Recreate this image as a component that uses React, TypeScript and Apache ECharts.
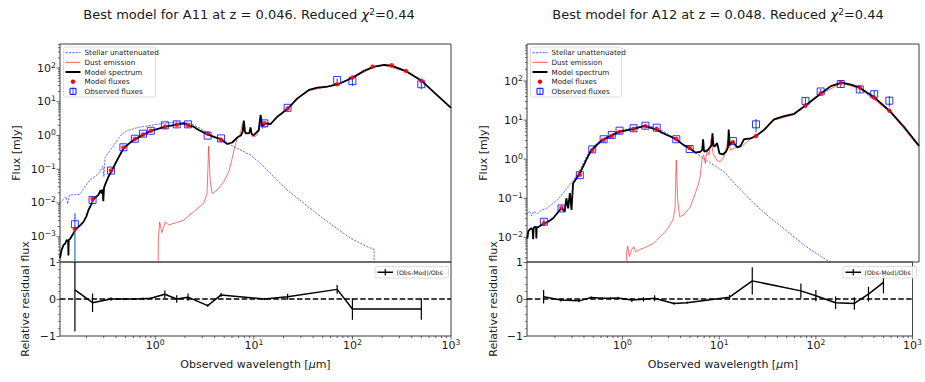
import React, { useEffect, useRef } from "react";
import * as echarts from "echarts";

const FONT = "'DejaVu Sans', Verdana, sans-serif";
const TXT = "#1a1a1a";
const FRAME = "#3c3c3c";

// Photometric bands (observed wavelength, micron)
const bandWavelengths = [0.153, 0.231, 0.355, 0.475, 0.62, 0.75, 0.9, 1.25, 1.65, 2.15, 3.4, 4.65, 12.8, 22, 70, 100, 160, 250, 350, 500];

// ---------- A11 ----------
const a11ModelFluxes = [1.7e-3, 0.0132, 0.091, 0.44, 0.79, 1.07, 1.38, 1.78, 2.09, 2.0, 1.15, 0.74, 2.29, 6.3, 33, 52, 110, 120, 82, 42];
const a11ObsFluxes = [2.34e-3, 0.0123, 0.091, 0.447, 0.8, 1.13, 1.38, 2.0, 2.14, 2.14, 0.99, 0.82, 2.29, 6.6, 44, 41, null, null, null, 33];
const a11ObsErrors = [2.6e-3, 3.1e-3, 4.5e-3, 0.013, 0.024, 0.034, 0.041, 0.2, 0.21, 0.21, 0.03, 0.041, 0.069, 0.53, 5.3, 11.9, null, null, null, 9.6];
const a11Residuals = [0.245, -0.1, 0.0, 0.0, 0.0, 0.01, 0.02, 0.13, 0.0, 0.05, -0.18, 0.11, 0.0, 0.06, 0.26, -0.27, null, null, null, -0.27];
const a11ResidualErrors = [1.12, 0.25, 0.05, 0.03, 0.03, 0.03, 0.03, 0.1, 0.1, 0.1, 0.03, 0.05, 0.03, 0.08, 0.12, 0.29, null, null, null, 0.29];

const a11Spectrum: [number, number][] = [
  [0.108, 2.3e-4], [0.112, 4.0e-4], [0.117, 5.6e-4], [0.122, 6.3e-4], [0.126, 7.9e-4], [0.1306, 7.6e-4],
  [0.1315, 2.8e-4], [0.1324, 7.9e-4], [0.137, 8.7e-4], [0.157, 1.7e-3], [0.174, 2.2e-3], [0.187, 2.75e-3],
  [0.2, 4.0e-3], [0.21, 6.2e-3], [0.224, 8.9e-3], [0.236, 0.0129], [0.251, 0.0151], [0.265, 0.0174],
  [0.279, 0.024], [0.285, 0.019], [0.292, 0.025], [0.297, 0.0112], [0.302, 0.028], [0.31, 0.035],
  [0.335, 0.06], [0.362, 0.091], [0.407, 0.178], [0.476, 0.417], [0.557, 0.617], [0.635, 0.794],
  [0.76, 1.07], [0.91, 1.38], [1.265, 1.82], [1.66, 2.09], [1.94, 2.29], [2.18, 2.0], [2.45, 1.82],
  [2.76, 1.45], [3.35, 1.1], [3.92, 0.91], [4.66, 0.776], [5.36, 0.56], [6.03, 0.62], [6.78, 0.87],
  [7.43, 1.02], [7.7, 1.3], [7.91, 2.75], [8.1, 1.3], [8.3, 1.15], [9.0, 1.2], [9.25, 1.74], [9.5, 1.1],
  [10.0, 1.02], [11.2, 1.45], [11.7, 4.07], [12.2, 1.91], [13.2, 2.29], [14.8, 2.19], [17.3, 3.63],
  [22.2, 6.31], [27.6, 12.6], [36.2, 22.4], [44.1, 26.3], [55.7, 28.2], [71.4, 33.1], [100, 51.3],
  [131.5, 83.2], [166, 110], [210, 123], [249, 117], [348, 81.3], [504, 41.7], [678, 18.6], [1000, 6.6],
];
const a11Stellar: [number, number][] = [
  [0.108, 9.8e-3], [0.117, 0.0129], [0.1245, 0.0155], [0.1295, 9.3e-3], [0.1346, 0.017], [0.172, 0.018],
  [0.187, 0.0263], [0.202, 0.0363], [0.218, 0.0479], [0.236, 0.0575], [0.255, 0.0676], [0.276, 0.0851],
  [0.294, 0.123], [0.301, 0.06], [0.31, 0.224], [0.335, 0.309], [0.377, 0.49], [0.424, 0.82], [0.458, 1.1],
  [0.515, 1.38], [0.652, 1.7], [0.889, 2.0], [1.216, 2.29], [1.66, 2.51], [2.27, 2.29], [2.87, 1.62],
  [3.62, 1.07], [4.95, 0.66], [6.78, 0.417], [9.25, 0.263], [11.7, 0.148], [16.0, 0.06], [21.8, 0.024],
  [32.2, 9.8e-3], [44.1, 4.7e-3], [65.2, 2.0e-3], [96.2, 8.9e-4], [142, 5.0e-4], [166, 4.2e-4], [166.1, 1e-6],
];
const a11Dust: [number, number][] = [
  [1.056, 1e-6], [1.074, 7.9e-4], [1.107, 2.75e-3], [1.169, 1.32e-3], [1.265, 2.75e-3], [1.368, 2.24e-3],
  [1.66, 2.63e-3], [1.94, 3.09e-3], [2.45, 5.5e-3], [3.1, 9.8e-3], [3.35, 0.019], [3.48, 0.49], [3.6, 0.048],
  [3.77, 0.019], [4.24, 0.024], [4.95, 0.0427], [5.57, 0.085], [6.03, 0.209], [6.35, 0.417], [6.78, 0.83],
  [7.21, 1.02], [7.67, 2.29], [7.98, 2.57], [8.3, 1.15], [8.97, 1.1], [9.31, 1.62], [9.68, 0.91],
  [10.5, 0.955], [11.3, 1.38], [11.8, 3.47], [12.2, 1.62], [13.7, 1.91], [17.3, 3.39], [22.2, 6.0],
  [27.6, 12.0], [36.2, 21.5], [55.7, 27.5], [71.4, 32.4], [100, 50.1], [166, 107], [210, 120], [348, 79],
  [504, 40.7], [1000, 6.4],
];

// ---------- A12 ----------
const a12ModelFluxes = [0.0229, 0.0575, 0.398, 1.66, 3.09, 3.89, 5.0, 5.9, 7.0, 5.9, 3.3, 1.94, 2.7, 3.9, 23.4, 48, 91, 69, 38, 17.4];
const a12ObsFluxes = [0.0251, 0.055, 0.39, 1.78, 3.24, 4.17, 5.37, 6.17, 7.2, 6.4, 3.24, 1.82, 2.9, 7.8, 31, 54, 84, 61, 46, 31.4];
const a12ObsErrors = [4.5e-3, 2.2e-3, 0.016, 0.053, 0.097, 0.125, 0.16, 0.31, 0.43, 0.51, 0.097, 0.055, 0.17, 2.9, 6.2, 8.1, 14.3, 10.4, 9.2, 9.4];
const a12Residuals = [0.06, -0.03, -0.05, 0.04, 0.02, 0.02, 0.03, -0.03, -0.01, 0.02, -0.12, -0.1, 0.05, 0.49, 0.22, 0.09, -0.1, -0.12, 0.13, 0.45];
const a12ResidualErrors = [0.18, 0.04, 0.04, 0.03, 0.03, 0.03, 0.03, 0.05, 0.06, 0.08, 0.03, 0.03, 0.06, 0.37, 0.2, 0.15, 0.17, 0.17, 0.2, 0.3];

const a12Spectrum: [number, number][] = [
  [0.1038, 9.3e-3], [0.1059, 0.0141], [0.1096, 0.0158], [0.114, 0.017], [0.1175, 0.0158], [0.1189, 8.9e-3],
  [0.1205, 0.0174], [0.1233, 0.0186], [0.1274, 0.0182], [0.1282, 9.3e-3], [0.1294, 0.0182], [0.1334, 0.0182],
  [0.15, 0.0219], [0.1687, 0.0251], [0.19, 0.0309], [0.222, 0.05], [0.234, 0.055], [0.249, 0.0457],
  [0.259, 0.1], [0.27, 0.055], [0.281, 0.135], [0.292, 0.05], [0.303, 0.24], [0.356, 0.44], [0.416, 1.0],
  [0.46, 1.62], [0.526, 2.29], [0.601, 3.09], [0.731, 3.89], [0.883, 5.01], [1.227, 5.89], [1.614, 7.08],
  [1.845, 6.46], [2.12, 5.75], [2.43, 4.79], [2.73, 4.17], [3.34, 3.31], [4.04, 2.29], [4.65, 1.91],
  [5.31, 1.48], [5.97, 1.55], [6.24, 1.74], [6.37, 3.24], [6.49, 1.74], [6.56, 1.55], [7.1, 1.7],
  [7.76, 2.24], [7.93, 4.57], [8.11, 2.24], [8.3, 2.09], [8.85, 2.57], [9.33, 1.41], [10.1, 1.32],
  [10.9, 1.55], [11.4, 2.0], [11.6, 5.75], [11.9, 2.24], [12.1, 2.57], [12.7, 2.82], [14.2, 2.0],
  [15.3, 2.19], [16.6, 3.24], [19.4, 3.39], [22.1, 3.98], [26.5, 5.62], [33.5, 10.5], [42.5, 12.6],
  [53.7, 14.5], [70.6, 24.0], [100.5, 47.9], [127, 74.1], [163, 91.2], [203, 81.3], [249, 67.6],
  [344, 39.8], [501, 17.4], [713, 6.46], [1000, 2.19],
];
const a12Stellar: [number, number][] = [
  [0.103, 0.0398], [0.1096, 0.0457], [0.1148, 0.0355], [0.1205, 0.0457], [0.127, 0.043], [0.1334, 0.0407],
  [0.1442, 0.05], [0.1622, 0.055], [0.19, 0.0741], [0.213, 0.0933], [0.24, 0.135], [0.27, 0.2],
  [0.303, 0.282], [0.342, 0.447], [0.4, 0.955], [0.45, 1.7], [0.526, 2.57], [0.665, 3.8], [0.91, 5.37],
  [1.245, 6.46], [1.706, 7.24], [2.16, 6.46], [2.73, 4.57], [3.45, 3.09], [4.72, 1.78], [6.46, 1.05],
  [10.35, 0.479], [14.2, 0.2], [20.9, 0.0741], [31.0, 0.0309], [45.9, 0.0141], [67.9, 6.3e-3],
  [100.5, 3.24e-3], [132, 2.14e-3], [166, 1.41e-3], [166.1, 1e-6],
];
const a12Dust: [number, number][] = [
  [1.047, 1e-6], [1.064, 4.27e-3], [1.089, 6.03e-3], [1.132, 3.24e-3], [1.197, 4.9e-3], [1.256, 5.75e-3],
  [1.306, 4.27e-3], [1.455, 4.9e-3], [1.706, 5.75e-3], [1.995, 7.08e-3], [2.33, 0.0105], [2.73, 0.0155],
  [3.14, 0.0275], [3.3, 0.055], [3.4, 0.955], [3.51, 0.0912], [3.67, 0.0339], [4.04, 0.0372], [4.72, 0.06],
  [5.31, 0.135], [5.74, 0.24], [5.97, 0.389], [6.21, 0.955], [6.46, 1.29], [6.71, 0.776], [6.98, 1.7],
  [7.33, 1.29], [7.67, 3.24], [8.05, 1.41], [8.85, 0.912], [9.57, 0.871], [10.35, 1.12], [11.0, 2.09],
  [11.5, 3.24], [12.1, 1.7], [13.6, 2.0], [15.3, 2.0], [19.4, 3.31], [26.5, 5.37], [33.5, 10.0],
  [53.7, 13.8], [100.5, 46.8], [163, 87.1], [249, 64.6], [501, 16.6], [1000, 2.09],
];

// axis ranges
const a11XRange = [0.108, 1000];
const a11YRange = [1.78e-4, 515];
const a12XRange = [0.103, 1000];
const a12YRange = [2.34e-3, 886];
const residualRange = [-1, 1];

// ---------- helpers ----------
const TOP = 44;
const TOP_H = 218;
const RES_H = 74;

function decadeTicks(min: number, max: number) {
  const out: number[] = [];
  for (let e = Math.ceil(Math.log10(min) - 1e-9); e <= Math.floor(Math.log10(max) + 1e-9); e++) out.push(Math.pow(10, e));
  return out;
}
function minorLogTicks(min: number, max: number) {
  const out: number[] = [];
  for (let e = Math.floor(Math.log10(min)); e <= Math.ceil(Math.log10(max)); e++) {
    for (let m = 2; m <= 9; m++) {
      const v = m * Math.pow(10, e);
      if (v >= min && v <= max) out.push(v);
    }
  }
  return out;
}
function logLabel(v: number) {
  const l = Math.log10(v);
  const e = Math.round(l);
  if (Math.abs(l - e) > 1e-6) return "";
  return `{b|10}{s|${e < 0 ? "\u2212" + -e : e}}`;
}
const sciRich = {
  b: { fontSize: 11, fontFamily: FONT, color: TXT, lineHeight: 14 },
  s: { fontSize: 7.7, fontFamily: FONT, color: TXT, lineHeight: 4, verticalAlign: "top" },
};

function tickSeries(axis: number, values: number[], dir: "x" | "y", len: number, anchor: number) {
  return {
    type: "custom",
    xAxisIndex: axis,
    yAxisIndex: axis,
    silent: true,
    z: 6,
    data: values.map((v) => (dir === "x" ? [v, anchor] : [anchor, v])),
    renderItem: (params: any, api: any) => {
      const cs = params.coordSys;
      const p = api.coord([api.value(0), api.value(1)]);
      if (dir === "x") {
        const y0 = cs.y + cs.height;
        return { type: "line", shape: { x1: p[0], y1: y0, x2: p[0], y2: y0 + len }, style: { stroke: FRAME, lineWidth: 0.8 } };
      }
      return { type: "line", shape: { x1: cs.x, y1: p[1], x2: cs.x - len, y2: p[1] }, style: { stroke: FRAME, lineWidth: 0.8 } };
    },
  };
}

function errorBars(axis: number, data: number[][], color: string, width: number, logY: boolean) {
  return {
    type: "custom",
    xAxisIndex: axis,
    yAxisIndex: axis,
    silent: true,
    z: 4,
    data,
    encode: { x: 0, y: 1 },
    renderItem: (params: any, api: any) => {
      const cs = params.coordSys;
      const x = api.value(0);
      const y = api.value(1);
      const e = api.value(2);
      const hi = api.coord([x, y + e]);
      const lo = y - e;
      let yb = logY && lo <= 0 ? cs.y + cs.height : api.coord([x, lo])[1];
      yb = Math.min(yb, cs.y + cs.height);
      const yt = Math.max(hi[1], cs.y);
      return { type: "line", shape: { x1: hi[0], y1: yt, x2: hi[0], y2: yb }, style: { stroke: color, lineWidth: width } };
    },
  };
}

interface Panel {
  left: number;
  width: number;
  xRange: number[];
  yRange: number[];
  spectrum: [number, number][];
  stellar: [number, number][];
  dust: [number, number][];
  model: number[];
  obs: (number | null)[];
  obsErr: (number | null)[];
  resid: (number | null)[];
  residErr: (number | null)[];
  name: string;
  z: string;
  chi2: string;
  titleX: number;
  fluxLabelX: number;
  resLabelX: number;
}

const panels: Panel[] = [
  {
    left: 60, width: 391, xRange: a11XRange, yRange: a11YRange,
    spectrum: a11Spectrum, stellar: a11Stellar, dust: a11Dust,
    model: a11ModelFluxes, obs: a11ObsFluxes, obsErr: a11ObsErrors, resid: a11Residuals, residErr: a11ResidualErrors,
    name: "A11", z: "0.046", chi2: "0.44", titleX: 249, fluxLabelX: 16, resLabelX: 25,
  },
  {
    left: 527, width: 392, xRange: a12XRange, yRange: a12YRange,
    spectrum: a12Spectrum, stellar: a12Stellar, dust: a12Dust,
    model: a12ModelFluxes, obs: a12ObsFluxes, obsErr: a12ObsErrors, resid: a12Residuals, residErr: a12ResidualErrors,
    name: "A12", z: "0.048", chi2: "0.44", titleX: 718, fluxLabelX: 483, resLabelX: 493,
  },
];

function text(x: number, y: number, str: string, size: number, extra: any = {}, rot = 0) {
  return {
    type: "text",
    x, y, rotation: rot,
    z: 100,
    style: { text: str, fontSize: size, fontFamily: FONT, fill: TXT, align: "center", verticalAlign: "middle", ...extra },
  };
}

function sedLegend(x0: number, y0: number, w: number) {
  const rows = [5.7, 15.3, 25, 34.7, 44.3].map((r) => y0 + r);
  const sx1 = x0 + 2, sx2 = x0 + 17, sc = x0 + 9.5, tx = x0 + 21;
  const labels = ["Stellar unattenuated", "Dust emission", "Model spectrum", "Model fluxes", "Observed fluxes"];
  const els: any[] = [
    { type: "rect", z: 99, shape: { x: x0, y: y0, width: w, height: 50, r: 2 }, style: { fill: "rgba(255,255,255,0.85)", stroke: "#d4d4d4", lineWidth: 0.8 } },
    { type: "line", z: 100, shape: { x1: sx1, y1: rows[0], x2: sx2, y2: rows[0] }, style: { stroke: "#2030ff", lineWidth: 0.8, lineDash: [2.2, 1.2] } },
    { type: "line", z: 100, shape: { x1: sx1, y1: rows[1], x2: sx2, y2: rows[1] }, style: { stroke: "#ff3030", lineWidth: 0.8 } },
    { type: "line", z: 100, shape: { x1: sx1, y1: rows[2], x2: sx2, y2: rows[2] }, style: { stroke: "#000", lineWidth: 2 } },
    { type: "circle", z: 100, shape: { cx: sc, cy: rows[3], r: 2.2 }, style: { fill: "#ff0000" } },
    { type: "line", z: 100, shape: { x1: sc, y1: rows[4] - 3.5, x2: sc, y2: rows[4] + 3.5 }, style: { stroke: "#1f77b4", lineWidth: 1 } },
    { type: "rect", z: 100, shape: { x: sc - 3, y: rows[4] - 3, width: 6, height: 6 }, style: { fill: "none", stroke: "#0000ff", lineWidth: 1 } },
  ];
  labels.forEach((l, i) => els.push({ type: "text", z: 100, x: tx, y: rows[i], style: { text: l, fontSize: 7.2, fontFamily: FONT, fill: TXT, align: "left", verticalAlign: "middle" } }));
  return els;
}

function residLegend(x0: number, y0: number, w: number) {
  const cy = y0 + 5.75;
  return [
    { type: "rect", z: 99, shape: { x: x0, y: y0, width: w, height: 11.5, r: 1.5 }, style: { fill: "rgba(255,255,255,0.85)", stroke: "#d4d4d4", lineWidth: 0.8 } },
    { type: "line", z: 100, shape: { x1: x0 + 2.5, y1: cy, x2: x0 + 18, y2: cy }, style: { stroke: "#000", lineWidth: 1.5 } },
    { type: "line", z: 100, shape: { x1: x0 + 10.25, y1: cy - 3.2, x2: x0 + 10.25, y2: cy + 3.2 }, style: { stroke: "#000", lineWidth: 1.2 } },
    { type: "text", z: 100, x: x0 + 21.5, y: cy, style: { text: "(Obs-Mod)/Obs", fontSize: 6.2, fontFamily: FONT, fill: TXT, align: "left", verticalAlign: "middle" } },
  ];
}

function buildOption() {
  const grid: any[] = [];
  const xAxis: any[] = [];
  const yAxis: any[] = [];
  const series: any[] = [];
  const graphic: any[] = [];

  panels.forEach((p, idx) => {
    const gT = idx * 2;
    const gR = idx * 2 + 1;
    grid.push({ left: p.left, top: TOP, width: p.width, height: TOP_H, show: true, borderColor: FRAME, borderWidth: 1, backgroundColor: "transparent" });
    grid.push({ left: p.left, top: TOP + TOP_H, width: p.width, height: RES_H, show: true, borderColor: FRAME, borderWidth: 1, backgroundColor: "transparent" });

    xAxis.push({
      type: "log", logBase: 10, gridIndex: gT, min: p.xRange[0], max: p.xRange[1],
      axisLine: { show: false }, axisTick: { show: false }, axisLabel: { show: false }, splitLine: { show: false },
    });
    xAxis.push({
      type: "log", logBase: 10, gridIndex: gR, min: p.xRange[0], max: p.xRange[1],
      axisLine: { show: false }, axisTick: { show: false }, splitLine: { show: false },
      axisLabel: { formatter: logLabel, rich: sciRich, margin: 2, color: TXT, showMinLabel: false, showMaxLabel: true },
    });
    yAxis.push({
      type: "log", logBase: 10, gridIndex: gT, min: p.yRange[0], max: p.yRange[1],
      axisLine: { show: false }, axisTick: { show: false }, splitLine: { show: false },
      axisLabel: { formatter: logLabel, rich: sciRich, margin: 4, color: TXT },
    });
    yAxis.push({
      type: "value", gridIndex: gR, min: residualRange[0], max: residualRange[1], interval: 1,
      axisLine: { show: false }, splitLine: { show: false },
      axisTick: { show: true, length: 3.5, lineStyle: { color: FRAME, width: 0.8 } },
      minorTick: { show: true, splitNumber: 5, length: 2, lineStyle: { color: FRAME, width: 0.6 } },
      axisLabel: {
        margin: 4, color: TXT, fontSize: 11, fontFamily: FONT,
        formatter: (v: number) => (v < 0 ? "\u2212" + Math.abs(v) : String(v)),
      },
    });

    // curves
    series.push({
      type: "line", name: "Stellar unattenuated", xAxisIndex: gT, yAxisIndex: gT, data: p.stellar, symbol: "none", z: 2,
      lineStyle: { color: "#2030ff", width: 0.7, type: [2.2, 1.2] },
    });
    series.push({
      type: "line", name: "Dust emission", xAxisIndex: gT, yAxisIndex: gT, data: p.dust, symbol: "none", z: 2,
      lineStyle: { color: "#ff3030", width: 0.7 },
    });
    series.push({
      type: "line", name: "Model spectrum", xAxisIndex: gT, yAxisIndex: gT, data: p.spectrum, symbol: "none", z: 3,
      lineStyle: { color: "#000", width: 1.8 },
    });

    const obsPts: number[][] = [];
    const resPts: number[][] = [];
    bandWavelengths.forEach((w, i) => {
      const o = p.obs[i];
      const oe = p.obsErr[i];
      const r = p.resid[i];
      const re = p.residErr[i];
      if (o != null && oe != null) obsPts.push([w, o, oe]);
      if (r != null && re != null) resPts.push([w, r, re]);
    });
    const modelPts = bandWavelengths.map((w, i) => [w, p.model[i]]);

    series.push(errorBars(gT, obsPts, "#1f77b4", 1.2, true));
    series.push({
      type: "scatter", name: "Observed fluxes", xAxisIndex: gT, yAxisIndex: gT, z: 5,
      data: obsPts.map((d) => [d[0], d[1]]), symbol: "rect", symbolSize: 7,
      itemStyle: { color: "rgba(0,0,0,0)", borderColor: "#0000ff", borderWidth: 1 },
    });
    series.push({
      type: "scatter", name: "Model fluxes", xAxisIndex: gT, yAxisIndex: gT, z: 6,
      data: modelPts, symbol: "circle", symbolSize: 4.6, itemStyle: { color: "#ff0000" },
    });

    // residuals
    series.push({
      type: "line", name: "(Obs-Mod)/Obs", xAxisIndex: gR, yAxisIndex: gR, z: 4,
      data: resPts.map((d) => [d[0], d[1]]), symbol: "none", lineStyle: { color: "#000", width: 1.5 },
      markLine: {
        silent: true, symbol: ["none", "none"], label: { show: false },
        lineStyle: { color: "#000", width: 1.5, type: [5.5, 2.4] },
        data: [{ yAxis: 0 }],
      },
    });
    series.push(errorBars(gR, resPts, "#000", 1.2, false));

    // ticks (log axes)
    series.push(tickSeries(gT, decadeTicks(p.yRange[0], p.yRange[1]), "y", 3.5, p.xRange[0]));
    series.push(tickSeries(gT, minorLogTicks(p.yRange[0], p.yRange[1]), "y", 2, p.xRange[0]));
    series.push(tickSeries(gR, decadeTicks(p.xRange[0], p.xRange[1]), "x", 3.5, -1));
    series.push(tickSeries(gR, minorLogTicks(p.xRange[0], p.xRange[1]), "x", 2, -1));

    // texts
    const cx = p.left + p.width / 2;
    graphic.push(
      text(p.titleX, 14, `Best model for ${p.name} at z = ${p.z}. Reduced {i|\u03c7}{s|2}=${p.chi2}`, 13, {
        rich: {
          i: { fontStyle: "italic", fontSize: 13, fontFamily: FONT, fill: TXT },
          s: { fontSize: 9, fontFamily: FONT, fill: TXT, lineHeight: 5, verticalAlign: "top" },
        },
      })
    );
    graphic.push(text(p.fluxLabelX, TOP + TOP_H / 2, "Flux [mJy]", 11, {}, Math.PI / 2));
    graphic.push(text(p.resLabelX, TOP + TOP_H + RES_H / 2, "Relative residual flux", 11, {}, Math.PI / 2));
    graphic.push(
      text(cx, 364, "Observed wavelength [{i|\u03bc}m]", 11, {
        rich: { i: { fontStyle: "italic", fontSize: 11, fontFamily: FONT, fill: TXT } },
      })
    );
    graphic.push(...sedLegend(p.left + 3.5, 47, idx === 0 ? 92 : 91));
    graphic.push(...residLegend(p.left + p.width - 76, 266.5, 73.5));
  });

  return {
    animation: false,
    backgroundColor: "#ffffff",
    textStyle: { fontFamily: FONT },
    grid,
    xAxis,
    yAxis,
    series,
    graphic,
  };
}

export default function App() {
  const ref = useRef<HTMLDivElement>(null);
  useEffect(() => {
    if (!ref.current) return;
    const chart = echarts.init(ref.current, null, { renderer: "svg" });
    chart.setOption(buildOption() as any);
    return () => chart.dispose();
  }, []);
  return (
    <div
      ref={ref}
      style={{ position: "absolute", left: 0, top: 0, width: 925, height: 382, background: "#fff" }}
    />
  );
}
